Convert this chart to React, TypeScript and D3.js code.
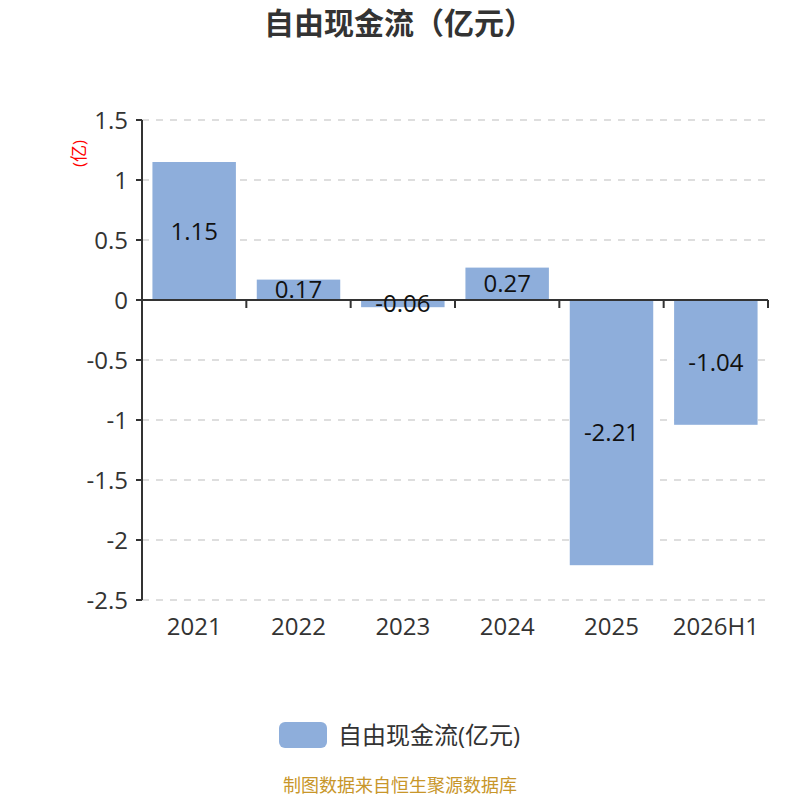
import * as d3 from "d3";

const categories = ["2021", "2022", "2023", "2024", "2025", "2026H1"];
const values = [1.15, 0.17, -0.06, 0.27, -2.21, -1.04];
const yTicks = [1.5, 1, 0.5, 0, -0.5, -1, -1.5, -2, -2.5];

const title = "自由现金流（亿元）";
const seriesName = "自由现金流(亿元)";
const unitLabel = "(亿)";
const footer = "制图数据来自恒生聚源数据库";

const W = 800;
const H = 800;
const margin = { left: 142, right: 32, top: 120, bottom: 200 };
const font = "'Open Sans', 'Noto Sans CJK SC', sans-serif";
const barColor = "#8eaedb";

export default function App() {
  const x = d3
    .scaleBand()
    .domain(categories)
    .range([margin.left, W - margin.right])
    .paddingInner(0.2)
    .paddingOuter(0.1);
  const band = d3
    .scaleBand()
    .domain(categories)
    .range([margin.left, W - margin.right]);
  const y = d3.scaleLinear().domain([-2.5, 1.5]).range([H - margin.bottom, margin.top]);
  const fmt = (v: number) => (v === 0 ? "0" : String(v));

  return (
    <svg width={W} height={H} style={{ position: "absolute", left: 0, top: 0 }} fontFamily={font}>
      <rect width={W} height={H} fill="#fff" />
      <text x={399} y={34} textAnchor="middle" fontSize={30} fontWeight="bold" fill="#333">
        {title}
      </text>
      <text
        transform={`translate(85, ${y(1.22)}) rotate(-90)`}
        textAnchor="middle"
        fontSize={17}
        fill="#ff0000"
      >
        {unitLabel}
      </text>
      {yTicks.map((t) => (
        <g key={t}>
          {t !== 0 && (
            <line
              x1={margin.left}
              x2={W - margin.right}
              y1={y(t)}
              y2={y(t)}
              stroke="#bdbdbd"
              strokeDasharray="7,7"
            />
          )}
          <line x1={margin.left - 6} x2={margin.left} y1={y(t)} y2={y(t)} stroke="#333" strokeWidth={2} />
          <text x={margin.left - 14} y={y(t)} dy="0.36em" textAnchor="end" fontSize={24} fill="#333">
            {fmt(t)}
          </text>
        </g>
      ))}
      {values.map((v, i) => (
        <rect
          key={categories[i]}
          x={x(categories[i])}
          width={x.bandwidth()}
          y={y(Math.max(0, v))}
          height={Math.abs(y(v) - y(0))}
          fill={barColor}
        />
      ))}
      <line x1={margin.left} x2={margin.left} y1={margin.top} y2={H - margin.bottom} stroke="#333" strokeWidth={2} />
      <line x1={margin.left} x2={W - margin.right} y1={y(0)} y2={y(0)} stroke="#333" strokeWidth={2} />
      {categories.map((c) => (
        <line
          key={c}
          x1={(band(c) as number) + band.bandwidth()}
          x2={(band(c) as number) + band.bandwidth()}
          y1={y(0)}
          y2={y(0) + 8}
          stroke="#333"
          strokeWidth={2}
        />
      ))}
      {values.map((v, i) => (
        <text
          key={categories[i]}
          x={(x(categories[i]) as number) + x.bandwidth() / 2}
          y={(y(v) + y(0)) / 2}
          dy="0.36em"
          textAnchor="middle"
          fontSize={24}
          fill="#111"
        >
          {String(v)}
        </text>
      ))}
      {categories.map((c) => (
        <text
          key={c}
          x={(band(c) as number) + band.bandwidth() / 2}
          y={H - margin.bottom + 35}
          textAnchor="middle"
          fontSize={24}
          fill="#333"
        >
          {c}
        </text>
      ))}
      <rect x={279} y={722} width={48} height={26} rx={6} fill={barColor} />
      <text x={338} y={735} dy="0.36em" fontSize={24} fill="#333">
        {seriesName}
      </text>
      <text x={W / 2} y={790} dy="0.1em" textAnchor="middle" fontSize={18} fill="#c8962a">
        {footer}
      </text>
    </svg>
  );
}
